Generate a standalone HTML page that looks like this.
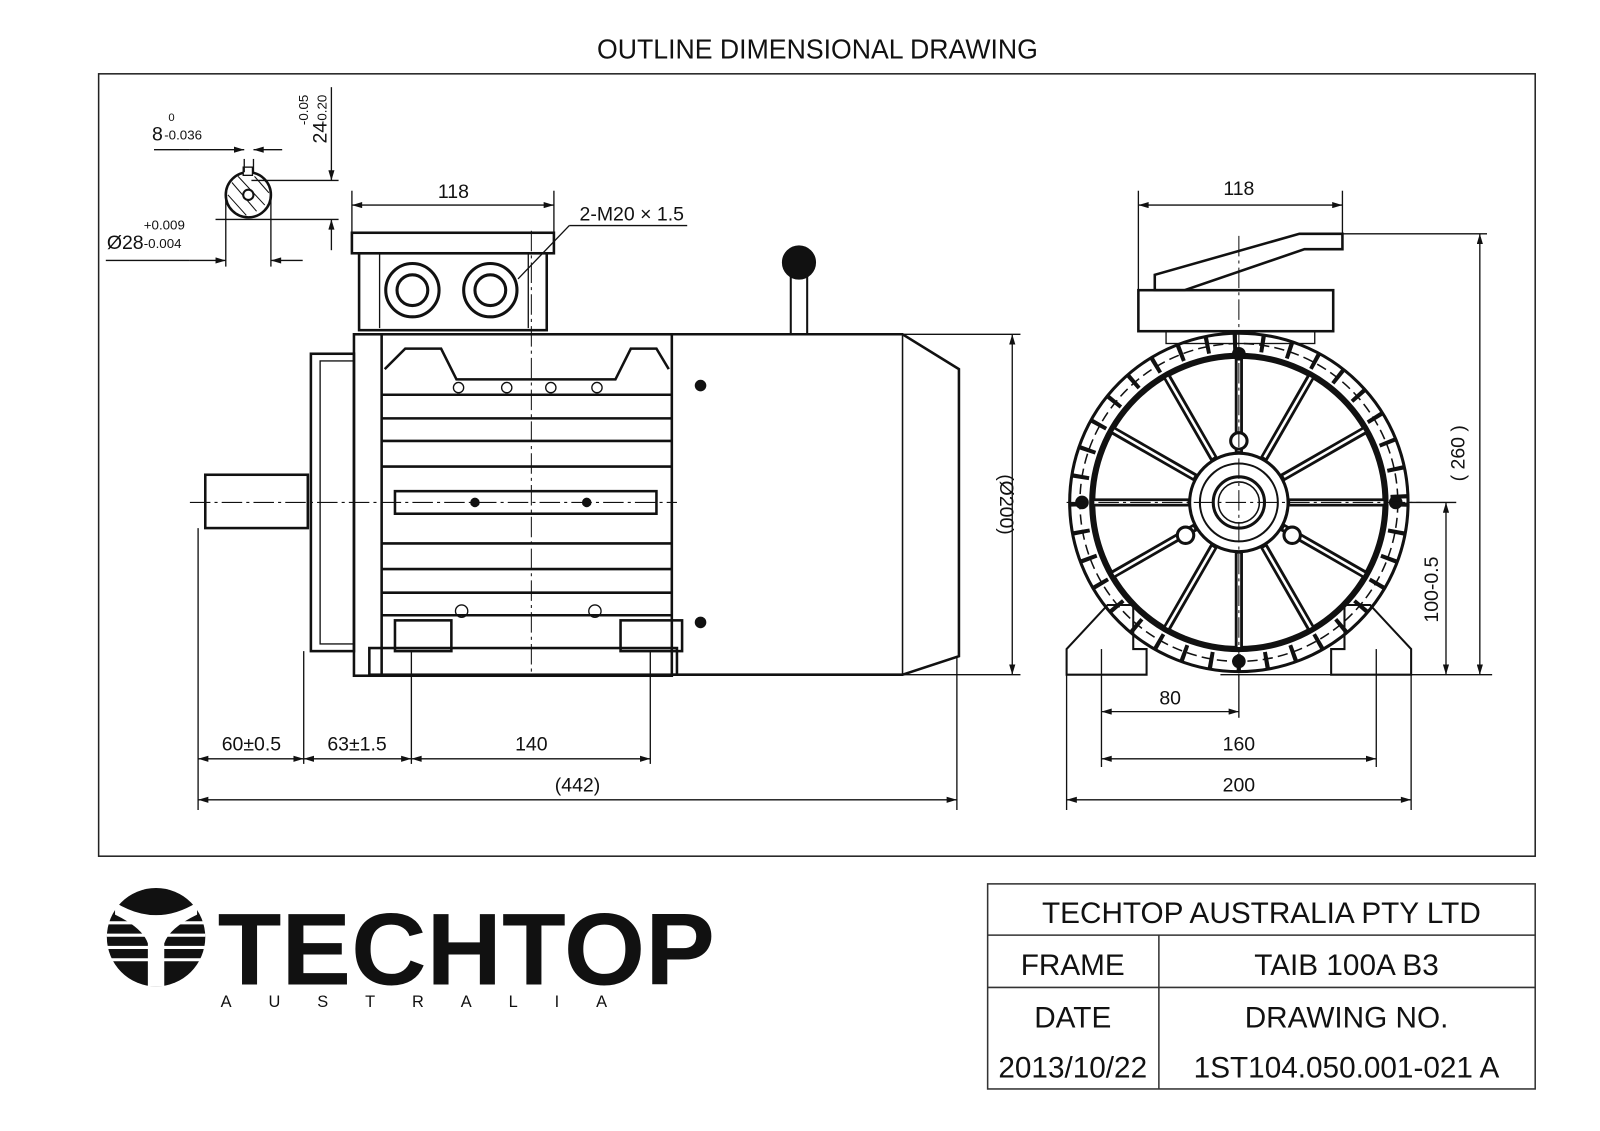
<!DOCTYPE html>
<html><head><meta charset="utf-8"><style>
html,body{margin:0;padding:0;background:#fff;}
svg{display:block;}
text{font-family:"Liberation Sans",sans-serif;fill:#111;}
</style></head><body>
<svg width="1600" height="1131" viewBox="0 0 1560 1103" xmlns="http://www.w3.org/2000/svg">
<defs>
<marker id="a" viewBox="0 0 10 6" refX="10" refY="3" markerWidth="14" markerHeight="6" orient="auto-start-reverse" markerUnits="userSpaceOnUse"><path d="M0,0 L10,3 L0,6 z" fill="#111"/></marker>
</defs>
<rect width="1560" height="1103" fill="#fff"/>
<text x="797" y="57" font-size="27" text-anchor="middle" textLength="430" lengthAdjust="spacingAndGlyphs">OUTLINE DIMENSIONAL DRAWING</text>
<rect x="96" y="72" width="1401" height="763" fill="none" stroke="#222" stroke-width="1.5"/>

<g stroke="#111" fill="none" stroke-width="1.3">
<circle cx="242" cy="190" r="22" stroke-width="2.5"/>
<path d="M226,178 L250,206 M222,190 L240,210 M232,172 L258,200 M248,172 L262,188" stroke-width="1"/>
<circle cx="242" cy="190" r="5" fill="#fff" stroke-width="2"/>
<rect x="237" y="163" width="9" height="8" fill="#fff"/>
<line x1="238" y1="155" x2="238" y2="168"/><line x1="247" y1="155" x2="247" y2="168"/>
<line x1="150" y1="146" x2="185" y2="146"/>
<line x1="185" y1="146" x2="238" y2="146" marker-end="url(#a)"/>
<line x1="275" y1="146" x2="247" y2="146" marker-end="url(#a)"/>
<line x1="210" y1="214" x2="330" y2="214"/><line x1="245" y1="176" x2="330" y2="176"/>
<line x1="323" y1="85" x2="323" y2="176" marker-end="url(#a)"/>
<line x1="323" y1="244" x2="323" y2="214" marker-end="url(#a)"/>
<line x1="220" y1="190" x2="220" y2="260"/><line x1="264" y1="190" x2="264" y2="260"/>
<line x1="103" y1="254" x2="185" y2="254"/>
<line x1="185" y1="254" x2="220" y2="254" marker-end="url(#a)"/>
<line x1="295" y1="254" x2="264" y2="254" marker-end="url(#a)"/>

<line x1="343" y1="186" x2="343" y2="232"/><line x1="540" y1="186" x2="540" y2="232"/>
<line x1="343" y1="200" x2="540" y2="200" marker-start="url(#a)" marker-end="url(#a)"/>
<rect x="343" y="227" width="197" height="20" stroke-width="2.5"/>
<rect x="350" y="247" width="183" height="75" stroke-width="2.5"/>
<line x1="370" y1="247" x2="370" y2="320"/><line x1="515" y1="247" x2="515" y2="320"/>
<circle cx="402" cy="283" r="26" stroke-width="3"/><circle cx="402" cy="283" r="15" stroke-width="3"/>
<circle cx="478" cy="283" r="26" stroke-width="3"/><circle cx="478" cy="283" r="15" stroke-width="3"/>
<line x1="505" y1="272" x2="555" y2="220"/><line x1="555" y1="220" x2="670" y2="220"/>
<rect x="771" y="268" width="16" height="58" stroke-width="2"/>
<circle cx="779" cy="256" r="16" fill="#111"/>
<rect x="345" y="326" width="310" height="333" stroke-width="2.5"/>
<path d="M655,326 L880,326 L935,360 L935,640 L880,658 L655,658" stroke-width="2.5"/>
<line x1="880" y1="326" x2="880" y2="658" stroke-width="1.5"/>
<rect x="303" y="345" width="42" height="290" stroke-width="2.5"/>
<rect x="312" y="352" width="33" height="276"/>
<rect x="200" y="463" width="100" height="52" stroke-width="2.5"/>
<line x1="185" y1="490" x2="660" y2="490" stroke-dasharray="20,4,3,4" stroke-width="1"/>
<g stroke-width="2.5">
<line x1="372" y1="385" x2="655" y2="385"/><line x1="372" y1="408" x2="655" y2="408"/>
<line x1="372" y1="430" x2="655" y2="430"/><line x1="372" y1="455" x2="655" y2="455"/>
<line x1="372" y1="530" x2="655" y2="530"/><line x1="372" y1="555" x2="655" y2="555"/>
<line x1="372" y1="578" x2="655" y2="578"/><line x1="372" y1="600" x2="655" y2="600"/>
<rect x="385" y="479" width="255" height="22"/>
<path d="M375,360 L395,340 L430,340 L445,370 L600,370 L615,340 L640,340 L652,360"/>
<rect x="360" y="632" width="300" height="26"/>
<rect x="385" y="605" width="55" height="30"/><rect x="605" y="605" width="60" height="30"/>
</g>
<line x1="372" y1="326" x2="372" y2="658" stroke-width="2.5"/>
<circle cx="447" cy="378" r="5"/><circle cx="494" cy="378" r="5"/><circle cx="537" cy="378" r="5"/><circle cx="582" cy="378" r="5"/>
<circle cx="450" cy="596" r="6"/><circle cx="580" cy="596" r="6"/>
<circle cx="683" cy="376" r="5" fill="#111"/><circle cx="683" cy="607" r="5" fill="#111"/>
<circle cx="463" cy="490" r="4" fill="#111"/><circle cx="572" cy="490" r="4" fill="#111"/>
<line x1="518" y1="225" x2="518" y2="660" stroke-dasharray="20,4,3,4" stroke-width="1"/>
<line x1="880" y1="326" x2="995" y2="326"/><line x1="880" y1="658" x2="995" y2="658"/>
<line x1="987" y1="326" x2="987" y2="658" marker-start="url(#a)" marker-end="url(#a)"/>
<line x1="193" y1="515" x2="193" y2="790"/><line x1="296" y1="635" x2="296" y2="745"/>
<line x1="401" y1="635" x2="401" y2="745"/><line x1="634" y1="635" x2="634" y2="745"/>
<line x1="933" y1="640" x2="933" y2="790"/>
<line x1="193" y1="740" x2="296" y2="740" marker-start="url(#a)" marker-end="url(#a)"/>
<line x1="296" y1="740" x2="401" y2="740" marker-start="url(#a)" marker-end="url(#a)"/>
<line x1="401" y1="740" x2="634" y2="740" marker-start="url(#a)" marker-end="url(#a)"/>
<line x1="193" y1="780" x2="933" y2="780" marker-start="url(#a)" marker-end="url(#a)"/>

<line x1="1110" y1="186" x2="1110" y2="290"/><line x1="1309" y1="186" x2="1309" y2="235"/>
<line x1="1110" y1="200" x2="1309" y2="200" marker-start="url(#a)" marker-end="url(#a)"/>
<path d="M1126,283 L1126,268 L1267,228 L1309,228 L1309,243 L1272,243 L1155,283 Z" stroke-width="2.5"/>
<rect x="1110" y="283" width="190" height="40" stroke-width="2.5"/>
<rect x="1137" y="323" width="145" height="12"/>
<line x1="1295" y1="228" x2="1450" y2="228"/>
<line x1="1443" y1="228" x2="1443" y2="658" marker-start="url(#a)" marker-end="url(#a)"/>
<line x1="1190" y1="658" x2="1455" y2="658"/>
<line x1="1375" y1="490" x2="1420" y2="490"/>
<line x1="1410" y1="490" x2="1410" y2="658" marker-start="url(#a)" marker-end="url(#a)"/>
<path d="M1040,658 L1040,633 L1080,590 L1105,590 L1105,633 L1118,633 L1118,658 Z" stroke-width="2" fill="#fff"/>
<path d="M1376,658 L1376,633 L1336,590 L1311,590 L1311,633 L1298,633 L1298,658 Z" stroke-width="2" fill="#fff"/>
<circle cx="1208" cy="490" r="165" stroke-width="3"/>
<circle cx="1208" cy="490" r="156" stroke-width="16" stroke-dasharray="4,23"/>
<circle cx="1208" cy="490" r="155" stroke-width="1.5" stroke-dasharray="10,5"/>
<circle cx="1208" cy="490" r="143" stroke-width="6"/>
<circle cx="1208" cy="490" r="48" stroke-width="3"/>
<circle cx="1208" cy="490" r="38" stroke-width="2"/>
<circle cx="1208" cy="490" r="25" stroke-width="3"/>
<circle cx="1208" cy="490" r="20" stroke-width="1.5"/>
<g stroke-width="8" stroke-linecap="butt">
<line x1="1208" y1="347" x2="1208" y2="442"/><line x1="1208" y1="538" x2="1208" y2="633"/>
<line x1="1065" y1="490" x2="1160" y2="490"/><line x1="1256" y1="490" x2="1351" y2="490"/>
<line x1="1137" y1="366" x2="1184" y2="448"/><line x1="1279" y1="366" x2="1232" y2="448"/>
<line x1="1137" y1="614" x2="1184" y2="532"/><line x1="1279" y1="614" x2="1232" y2="532"/>
<line x1="1084" y1="419" x2="1166" y2="466"/><line x1="1332" y1="419" x2="1250" y2="466"/>
<line x1="1084" y1="561" x2="1166" y2="514"/><line x1="1332" y1="561" x2="1250" y2="514"/>
</g>
<g stroke="#fff" stroke-width="2.5">
<line x1="1208" y1="349" x2="1208" y2="440"/><line x1="1208" y1="540" x2="1208" y2="631"/>
<line x1="1067" y1="490" x2="1158" y2="490"/><line x1="1258" y1="490" x2="1349" y2="490"/>
<line x1="1138" y1="368" x2="1183" y2="446"/><line x1="1278" y1="368" x2="1233" y2="446"/>
<line x1="1138" y1="612" x2="1183" y2="534"/><line x1="1278" y1="612" x2="1233" y2="534"/>
<line x1="1086" y1="420" x2="1164" y2="465"/><line x1="1330" y1="420" x2="1252" y2="465"/>
<line x1="1086" y1="560" x2="1164" y2="515"/><line x1="1330" y1="560" x2="1252" y2="515"/>
</g>
<circle cx="1208" cy="430" r="8" fill="#fff" stroke-width="3"/>
<circle cx="1156" cy="522" r="8" fill="#fff" stroke-width="3"/>
<circle cx="1260" cy="522" r="8" fill="#fff" stroke-width="3"/>
<circle cx="1208" cy="345" r="6" fill="#111"/><circle cx="1208" cy="645" r="6" fill="#111"/>
<circle cx="1055" cy="490" r="6" fill="#111"/><circle cx="1361" cy="490" r="6" fill="#111"/>
<line x1="1040" y1="490" x2="1385" y2="490" stroke-width="1" stroke-dasharray="20,4,3,4"/>
<line x1="1208" y1="230" x2="1208" y2="660" stroke-width="1" stroke-dasharray="20,4,3,4"/>
<line x1="1040" y1="658" x2="1040" y2="790"/><line x1="1376" y1="658" x2="1376" y2="790"/>
<line x1="1074" y1="633" x2="1074" y2="748"/><line x1="1342" y1="633" x2="1342" y2="748"/>
<line x1="1208" y1="658" x2="1208" y2="700"/>
<line x1="1074" y1="694" x2="1208" y2="694" marker-start="url(#a)" marker-end="url(#a)"/>
<line x1="1074" y1="740" x2="1342" y2="740" marker-start="url(#a)" marker-end="url(#a)"/>
<line x1="1040" y1="780" x2="1376" y2="780" marker-start="url(#a)" marker-end="url(#a)"/>
</g>

<g font-size="19">
<text x="148" y="137">8</text><text x="164" y="118" font-size="11">0</text><text x="160" y="136" font-size="13">-0.036</text>
<text x="104" y="243">Ø28</text><text x="140" y="224" font-size="13">+0.009</text><text x="140" y="242" font-size="13">-0.004</text>
<text transform="translate(318,140) rotate(-90)">24</text><text transform="translate(300,122) rotate(-90)" font-size="13">-0.05</text><text transform="translate(318,122) rotate(-90)" font-size="13">-0.20</text>
<text x="442" y="193" text-anchor="middle">118</text>
<text x="565" y="215">2-M20 × 1.5</text>
<text transform="translate(975,492) rotate(90)" text-anchor="middle">(Ø200)</text>
<text x="245" y="732" text-anchor="middle">60±0.5</text>
<text x="348" y="732" text-anchor="middle">63±1.5</text>
<text x="518" y="732" text-anchor="middle">140</text>
<text x="563" y="772" text-anchor="middle">(442)</text>
<text x="1208" y="190" text-anchor="middle">118</text>
<text transform="translate(1428,442) rotate(-90)" text-anchor="middle">( 260 )</text>
<text transform="translate(1402,575) rotate(-90)" text-anchor="middle">100-0.5</text>
<text x="1141" y="687" text-anchor="middle">80</text>
<text x="1208" y="732" text-anchor="middle">160</text>
<text x="1208" y="772" text-anchor="middle">200</text>
</g>

<circle cx="152" cy="914" r="48" fill="#111"/>
<g stroke="#fff" stroke-width="3">
<line x1="104" y1="900" x2="200" y2="900"/><line x1="104" y1="912" x2="200" y2="912"/>
<line x1="104" y1="924" x2="200" y2="924"/><line x1="104" y1="936" x2="200" y2="936"/>
</g>
<path d="M112,880 Q152,905 192,880 L192,892 Q165,905 160,920 L160,962 L144,962 L144,920 Q139,905 112,892 Z" fill="#fff"/>
<text x="212" y="960" font-size="100" font-weight="bold" textLength="485" lengthAdjust="spacingAndGlyphs">TECHTOP</text>
<text x="215" y="982" font-size="16" letter-spacing="36">AUSTRALIA</text>

<g stroke="#333" stroke-width="1.5" fill="none">
<rect x="963" y="862" width="534" height="200"/>
<line x1="963" y1="912" x2="1497" y2="912"/><line x1="963" y1="963" x2="1497" y2="963"/>
<line x1="1130" y1="912" x2="1130" y2="1062"/>
</g>
<g font-size="29" text-anchor="middle">
<text x="1230" y="900">TECHTOP AUSTRALIA PTY LTD</text>
<text x="1046" y="951">FRAME</text><text x="1313" y="951">TAIB 100A B3</text>
<text x="1046" y="1002">DATE</text><text x="1313" y="1002">DRAWING NO.</text>
<text x="1046" y="1051">2013/10/22</text><text x="1313" y="1051">1ST104.050.001-021 A</text>
</g>
</svg>
</body></html>
